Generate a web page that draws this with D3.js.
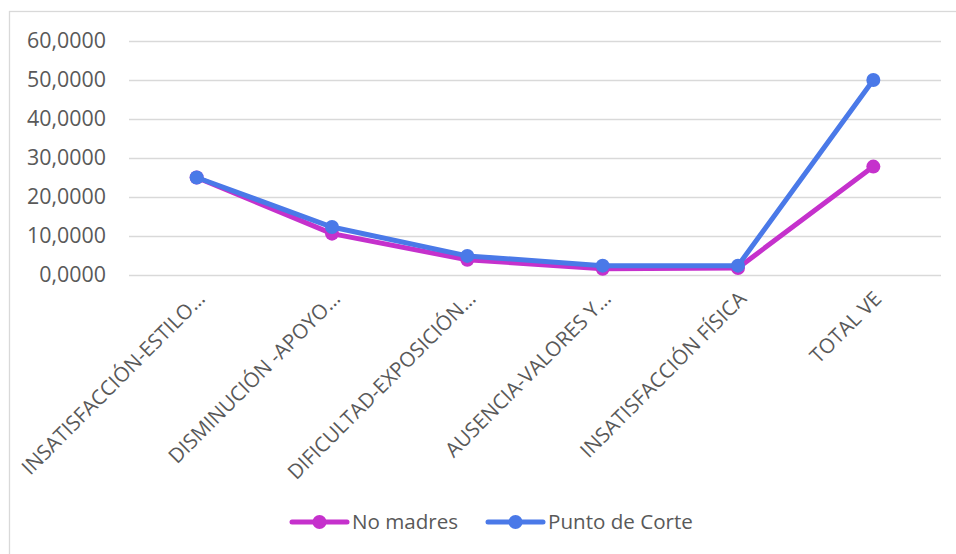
<!DOCTYPE html>
<html>
<head>
<meta charset="utf-8">
<script src="https://cdn.jsdelivr.net/npm/d3@7"></script>
<style>
  html, body { margin: 0; padding: 0; background: #fff; }
  svg { display: block; }
  text { font-family: "Open Sans", "Noto Sans", sans-serif; fill: #595959; }
</style>
</head>
<body>
<svg id="chart" width="956" height="554"></svg>
<script>
// Categories as displayed on the horizontal axis
const categories = [
  "INSATISFACCIÓN-ESTILO…",
  "DISMINUCIÓN -APOYO…",
  "DIFICULTAD-EXPOSICIÓN…",
  "AUSENCIA-VALORES Y…",
  "INSATISFACCIÓN FÍSICA",
  "TOTAL VE"
];
// Series values
const noMadres = [25.0, 10.6, 3.9, 1.6, 1.8, 27.8];
const puntoDeCorte = [25.0, 12.3, 4.9, 2.4, 2.4, 50.0];
// Vertical axis ticks
const yTicks = [0, 10, 20, 30, 40, 50, 60];

const seriesList = [
  { name: "No madres", values: noMadres, color: "#C531CC" },
  { name: "Punto de Corte", values: puntoDeCorte, color: "#4A79E8" }
];

const svg = d3.select("#chart");

// Outer chart frame
svg.append("rect")
  .attr("x", 9.5).attr("y", 11.5)
  .attr("width", 980).attr("height", 580)
  .attr("fill", "#fff")
  .attr("stroke", "#d9d9d9").attr("stroke-width", 1.3);

const plot = { left: 129, right: 941, top: 41, bottom: 275 };

const x = d3.scalePoint()
  .domain(categories)
  .range([plot.left, plot.right])
  .padding(0.5);

const y = d3.scaleLinear()
  .domain([0, 60])
  .range([plot.bottom, plot.top]);

const locale = d3.formatLocale({ decimal: ",", thousands: ".", grouping: [3], currency: ["", "€"] });
const fmt = locale.format(".4f");

// Y axis with gridlines
const yAxis = svg.append("g")
  .attr("transform", `translate(${plot.left},0)`)
  .call(d3.axisLeft(y)
    .tickValues(yTicks)
    .tickFormat(fmt)
    .tickSize(-(plot.right - plot.left))
    .tickPadding(23));
yAxis.select(".domain").remove();
yAxis.selectAll(".tick line")
  .attr("stroke", "#d9d9d9")
  .attr("stroke-width", 1.4);
yAxis.selectAll(".tick text")
  .attr("fill", "#595959")
  .style("font-size", "21.4px");

// X axis labels, rotated
const xAxis = svg.append("g")
  .attr("transform", `translate(0,${plot.bottom})`)
  .call(d3.axisBottom(x).tickSize(0));
xAxis.select(".domain").remove();
xAxis.selectAll(".tick text")
  .attr("fill", "#595959")
  .style("font-size", "20.5px")
  .attr("text-anchor", "end")
  .attr("x", 0).attr("y", 0).attr("dy", "0.35em")
  .attr("transform", "translate(4,20) rotate(-45)");

// Lines and markers
const line = d3.line()
  .x((d, i) => x(categories[i]))
  .y(d => y(d));

seriesList.forEach(s => {
  const g = svg.append("g");
  g.append("path")
    .datum(s.values)
    .attr("d", line)
    .attr("fill", "none")
    .attr("stroke", s.color)
    .attr("stroke-width", 5)
    .attr("stroke-linejoin", "round")
    .attr("stroke-linecap", "round");
  g.selectAll("circle")
    .data(s.values)
    .join("circle")
    .attr("cx", (d, i) => x(categories[i]))
    .attr("cy", d => y(d))
    .attr("r", 7)
    .attr("fill", s.color);
});

// Legend
const legendItems = [
  { x: 292, s: seriesList[0] },
  { x: 488, s: seriesList[1] }
];
const legendY = 522;
legendItems.forEach(item => {
  const g = svg.append("g").attr("transform", `translate(${item.x},${legendY})`);
  g.append("line")
    .attr("x1", 0).attr("x2", 55)
    .attr("y1", 0).attr("y2", 0)
    .attr("stroke", item.s.color)
    .attr("stroke-width", 5)
    .attr("stroke-linecap", "round");
  g.append("circle")
    .attr("cx", 27.5).attr("cy", 0).attr("r", 7)
    .attr("fill", item.s.color);
  g.append("text")
    .attr("x", 60).attr("y", 0).attr("dy", "0.35em")
    .style("font-size", "20.6px")
    .text(item.s.name);
});
</script>
</body>
</html>
